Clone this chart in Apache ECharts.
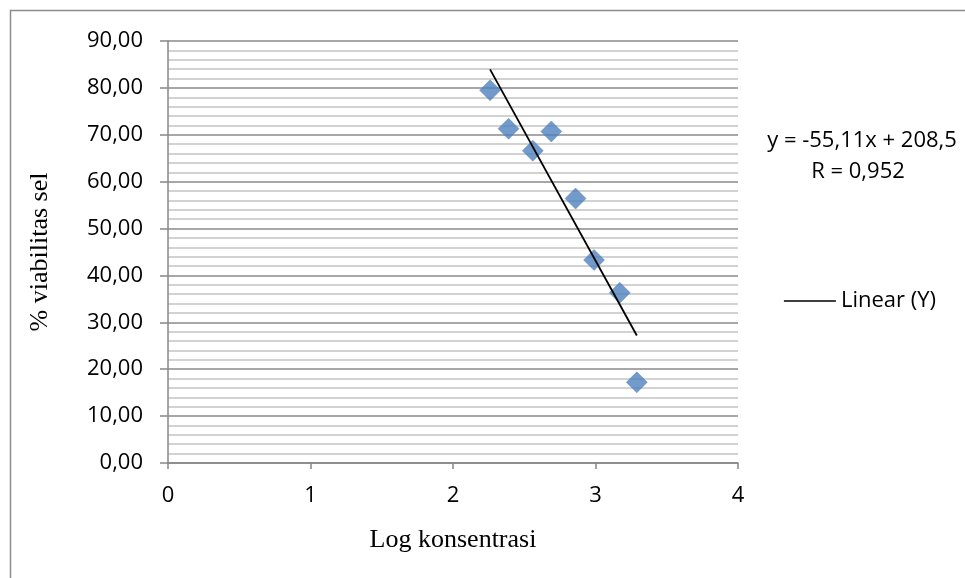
<!DOCTYPE html>
<html>
<head>
<meta charset="utf-8">
<script src="https://cdn.jsdelivr.net/npm/echarts@6/dist/echarts.min.js"></script>
<style>html,body{margin:0;padding:0;background:#fff;}#c{width:965px;height:578px;}</style>
</head>
<body>
<div id="c"></div>
<script>
// Data
const logKonsentrasi = [2.26, 2.39, 2.56, 2.69, 2.86, 2.99, 3.17, 3.29];
const viabilitas = [79.5, 71.3, 66.6, 70.7, 56.4, 43.3, 36.3, 17.2];
const trendSlope = -55.11;
const trendIntercept = 208.5;
const trendName = 'Linear (Y)';
const equationLines = ['y = -55,11x + 208,5', 'R = 0,952'];
const xTicks = [0, 1, 2, 3, 4];
const yTicks = [0, 10, 20, 30, 40, 50, 60, 70, 80, 90];

const scatterData = logKonsentrasi.map((x, i) => [x, viabilitas[i]]);
const xMin = Math.min(...logKonsentrasi), xMax = Math.max(...logKonsentrasi);
const trendData = [[xMin, trendSlope * xMin + trendIntercept], [xMax, trendSlope * xMax + trendIntercept]];

const chart = echarts.init(document.getElementById('c'), null, {renderer: 'canvas'});
const axisGray = '#868686';
const labelFont = 'Open Sans';
const labelSize = 22;
const titleSize = 26;
chart.setOption({
  animation: false,
  backgroundColor: '#fff',
  grid: {left: 168, top: 41, width: 570, height: 422, containLabel: false},
  xAxis: {
    type: 'value', min: xTicks[0], max: xTicks[xTicks.length - 1], interval: 1,
    name: 'Log konsentrasi', nameLocation: 'middle', nameGap: 64,
    nameTextStyle: {fontFamily: 'Liberation Serif', fontSize: titleSize, color: '#000'},
    axisLine: {show: true, onZero: false, lineStyle: {color: axisGray, width: 1.5}},
    axisTick: {show: true, length: 6, lineStyle: {color: axisGray, width: 1.5}},
    axisLabel: {fontFamily: labelFont, fontSize: labelSize, color: '#000', margin: 22,
      formatter: v => String(v)},
    splitLine: {show: false}
  },
  yAxis: {
    type: 'value', min: yTicks[0], max: yTicks[yTicks.length - 1], interval: 10,
    name: '% viabilitas sel', nameLocation: 'middle', nameGap: 115, nameRotate: 90,
    nameTextStyle: {fontFamily: 'Liberation Serif', fontSize: titleSize, color: '#000'},
    axisLine: {show: true, onZero: false, lineStyle: {color: axisGray, width: 1.5}},
    axisTick: {show: true, length: 8, lineStyle: {color: axisGray, width: 1.5}},
    axisLabel: {fontFamily: labelFont, fontSize: labelSize, color: '#000', margin: 25,
      formatter: v => v.toFixed(2).replace('.', ',')},
    splitLine: {show: true, lineStyle: {color: '#8a8a8a', width: 1.5}},
    minorTick: {show: false, splitNumber: 5},
    minorSplitLine: {show: true, lineStyle: {color: '#c4c4c4', width: 1.5}}
  },
  legend: {
    show: true, right: 24, top: 285, orient: 'vertical',
    data: [{name: trendName, icon: 'rect'}],
    itemWidth: 52, itemHeight: 1.5, itemGap: 6,
    textStyle: {fontFamily: labelFont, fontSize: labelSize, color: '#000'},
    selectedMode: false
  },
  series: [
    {
      name: 'Y', type: 'scatter', data: scatterData,
      symbol: 'diamond', symbolSize: 21,
      itemStyle: {color: '#4F81BD', borderColor: '#4A7EBB', borderWidth: 0.5},
      z: 3
    },
    {
      name: trendName, type: 'line', data: trendData,
      showSymbol: false, symbol: 'none',
      lineStyle: {color: '#000', width: 1.8},
      itemStyle: {color: '#000'},
      z: 4
    }
  ],
  graphic: [
    {type: 'rect', shape: {x: 10.5, y: 10.5, width: 2000, height: 2000},
      style: {fill: 'none', stroke: '#8c8c8c', lineWidth: 1.5}, silent: true},
    {type: 'text', x: 862, y: 141,
      style: {text: equationLines[0], fontFamily: labelFont, fontSize: labelSize, fill: '#000', align: 'center', verticalAlign: 'middle'}},
    {type: 'text', x: 858, y: 172,
      style: {text: equationLines[1], fontFamily: labelFont, fontSize: labelSize, fill: '#000', align: 'center', verticalAlign: 'middle'}}
  ]
});
</script>
</body>
</html>
